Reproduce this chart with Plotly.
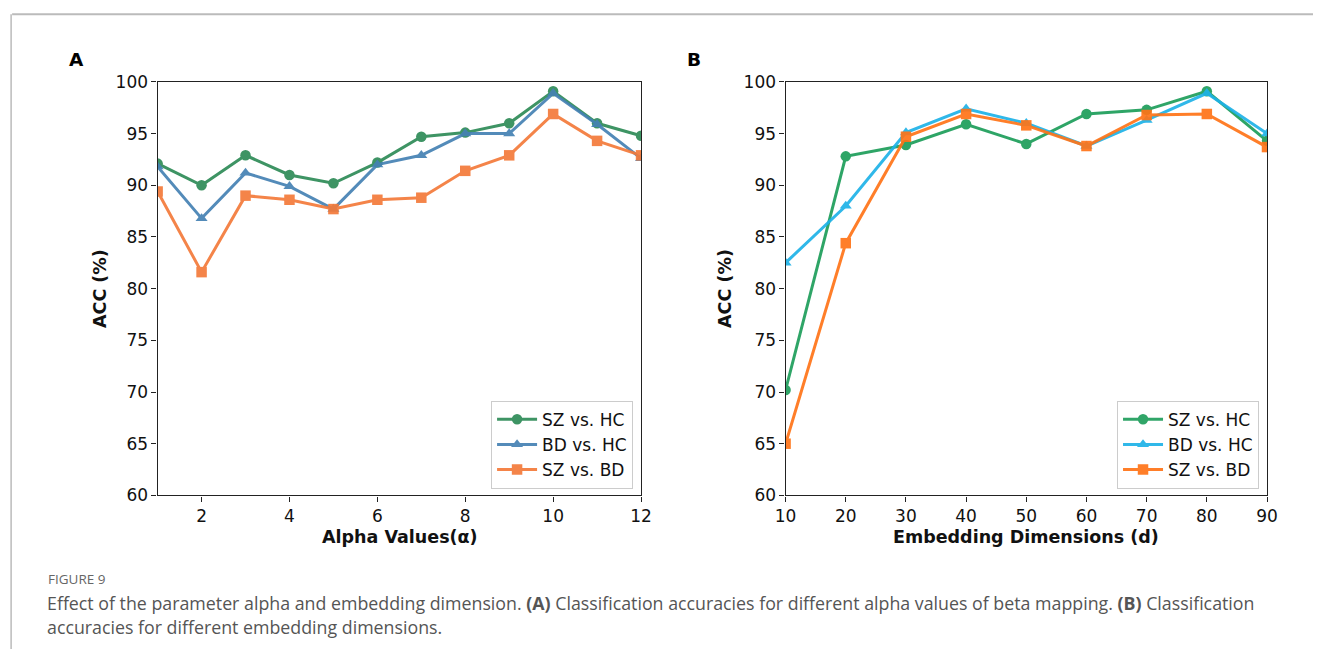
import plotly.graph_objects as go

# layout helpers: positions below are given in page pixels and converted
# to paper fractions of the figure (page body margin + viewport scaling)
SX, SY = 0.9866, 0.9733
PAD = 8
W, H = 1324, 659

# Panel A: accuracy vs alpha
alpha_vals = [1, 2, 3, 4, 5, 6, 7, 8, 9, 10, 11, 12]
a_sz_hc = [92.1, 90.0, 92.9, 91.0, 90.2, 92.2, 94.7, 95.1, 96.0, 99.1, 96.0, 94.8]
a_bd_hc = [91.8, 86.8, 91.2, 89.9, 87.7, 92.0, 92.9, 95.0, 95.0, 98.9, 95.9, 92.6]
a_sz_bd = [89.4, 81.6, 89.0, 88.6, 87.7, 88.6, 88.8, 91.4, 92.9, 96.9, 94.3, 92.9]

# Panel B: accuracy vs embedding dimension
dims = [10, 20, 30, 40, 50, 60, 70, 80, 90]
b_sz_hc = [70.2, 92.8, 93.9, 95.9, 94.0, 96.9, 97.3, 99.1, 94.3]
b_bd_hc = [82.5, 88.0, 95.1, 97.4, 96.0, 93.8, 96.3, 98.9, 95.0]
b_sz_bd = [65.0, 84.4, 94.7, 96.9, 95.8, 93.8, 96.8, 96.9, 93.7]

series_names = ["SZ vs. HC", "BD vs. HC", "SZ vs. BD"]
y_ticks = [60, 65, 70, 75, 80, 85, 90, 95, 100]
alpha_ticks = [2, 4, 6, 8, 10, 12]


def px_x(p):
    return (p / SX - PAD) / W


def px_y(p):
    return 1 - (p / SY - PAD) / H


fig = go.Figure()

colors_a = ["#2e8b57", "#4682b4", "#f47a3a"]
colors_b = ["#1f9e5c", "#1fb2e8", "#ff7417"]
symbols = ["circle", "triangle-up", "square"]

for name, ys, col, sym in zip(series_names, [a_sz_hc, a_bd_hc, a_sz_bd], colors_a, symbols):
    fig.add_trace(go.Scatter(
        x=alpha_vals, y=ys, name=name, mode="lines+markers",
        line=dict(color=col, width=3),
        marker=dict(symbol=sym, size=10.5, color=col),
        opacity=0.92, xaxis="x", yaxis="y", legend="legend",
    ))

for name, ys, col, sym in zip(series_names, [b_sz_hc, b_bd_hc, b_sz_bd], colors_b, symbols):
    fig.add_trace(go.Scatter(
        x=dims, y=ys, name=name, mode="lines+markers",
        line=dict(color=col, width=3),
        marker=dict(symbol=sym, size=10.5, color=col),
        opacity=0.92, xaxis="x2", yaxis="y2", legend="legend2",
    ))

tick_font = dict(family="DejaVu Sans", size=17, color="#111")
title_font = dict(family="DejaVu Sans", size=17.5, color="#111")
axis_common = dict(showline=True, linecolor="#222", linewidth=1.3, mirror=True,
                   ticks="outside", ticklen=5, tickwidth=1.2, tickcolor="#222",
                   showgrid=False, zeroline=False, tickfont=tick_font)

y_dom = [px_y(495), px_y(80)]

legend_common = dict(xanchor="right", yanchor="top",
                     bgcolor="rgba(255,255,255,0.9)", bordercolor="#ccc", borderwidth=1,
                     font=dict(family="DejaVu Sans", size=17, color="#111"),
                     tracegroupgap=0, itemwidth=40)

fig.update_layout(
    width=W, height=H,
    margin=dict(l=0, r=0, t=0, b=0),
    paper_bgcolor="white", plot_bgcolor="white",
    xaxis=dict(domain=[px_x(155), px_x(640)], range=[1, 12],
               tickvals=alpha_ticks, anchor="y", **axis_common),
    yaxis=dict(domain=y_dom, range=[60, 100], tickvals=y_ticks, anchor="x", **axis_common),
    xaxis2=dict(domain=[px_x(785), px_x(1268)], range=[10, 90],
                tickvals=dims, anchor="y2", **axis_common),
    yaxis2=dict(domain=y_dom, range=[60, 100], tickvals=y_ticks, anchor="x2", **axis_common),
    legend=dict(x=px_x(632), y=px_y(400), **legend_common),
    legend2=dict(x=px_x(1260), y=px_y(400), **legend_common),
    showlegend=True,
)

# outer frame lines
fig.add_shape(type="line", xref="paper", yref="paper",
              x0=px_x(9), x1=1, y0=px_y(12), y1=px_y(12),
              line=dict(color="#bbbbbb", width=2))
fig.add_shape(type="line", xref="paper", yref="paper",
              x0=px_x(8), x1=px_x(8), y0=px_y(12), y1=0,
              line=dict(color="#bbbbbb", width=1.5))


def note(text, xp, yp, font, xanchor="center", angle=0):
    fig.add_annotation(text=text, x=px_x(xp), y=px_y(yp), xref="paper", yref="paper",
                       showarrow=False, xanchor=xanchor, yanchor="middle",
                       textangle=angle, font=font)


# panel letters
for label, xp in [("A", 74), ("B", 693)]:
    note(f"<b>{label}</b>", xp, 57, dict(family="DejaVu Sans", size=18.5, color="#000"))

# axis titles
note("<b>Alpha Values(α)</b>", 398, 537, title_font)
note("<b>Embedding Dimensions (d)</b>", 1026, 537, title_font)
note("<b>ACC (%)</b>", 97, 287, title_font, angle=-90)
note("<b>ACC (%)</b>", 724, 287, title_font, angle=-90)

# caption
cap_font = dict(family="Open Sans", size=17.8, color="#555")
note("FIGURE 9", 43, 579, dict(family="Open Sans", size=13.5, color="#666"), xanchor="left")
note("Effect of the parameter alpha and embedding dimension. <b>(A)</b> Classification "
     "accuracies for different alpha values of beta mapping. <b>(B)</b> Classification",
     42, 603, cap_font, xanchor="left")
note("accuracies for different embedding dimensions.", 42, 627, cap_font, xanchor="left")

fig.write_html("out.html")
